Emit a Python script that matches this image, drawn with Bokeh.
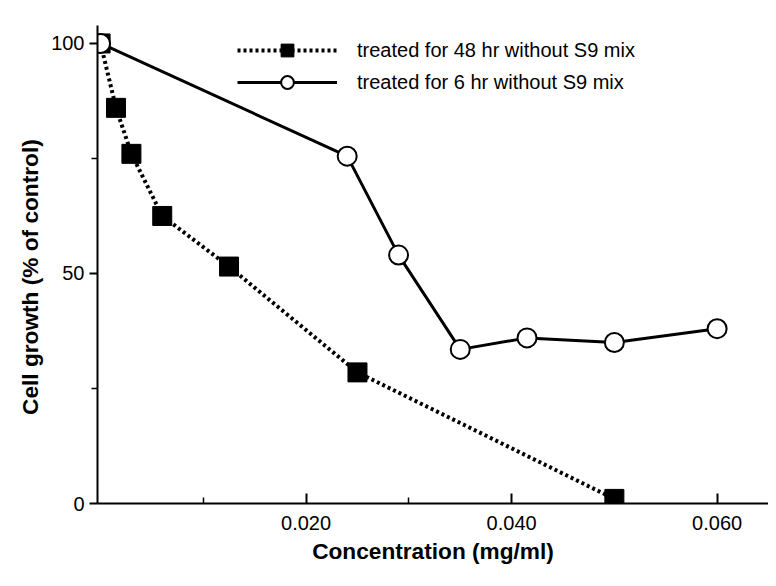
from bokeh.plotting import figure
from bokeh.models import Legend, Range1d, FixedTicker
from bokeh.embed import file_html
from bokeh.resources import INLINE

conc_48 = [0.0, 0.0015, 0.003, 0.006, 0.0125, 0.025, 0.050]
growth_48 = [100, 86, 76, 62.5, 51.5, 28.5, 1]
conc_6 = [0.0, 0.024, 0.029, 0.035, 0.0415, 0.050, 0.060]
growth_6 = [100, 75.5, 54, 33.5, 36, 35, 38]

FONT = "Liberation Sans"

p = figure(
    frame_width=671,
    frame_height=478,
    min_border_left=97,
    min_border_right=0,
    min_border_top=25,
    min_border_bottom=60,
    x_range=Range1d(-0.0003, 0.065),
    y_range=Range1d(0, 103.9),
    toolbar_location=None,
    tools="",
    output_backend="svg",
)

l1 = p.line(conc_48, growth_48, line_color="black", line_width=4, line_dash="3 3")
s1 = p.scatter(conc_48, growth_48, marker="square", size=19, fill_color="black", line_color="black")
l2 = p.line(conc_6, growth_6, line_color="black", line_width=3)
s2 = p.scatter(conc_6, growth_6, marker="circle", size=19, fill_color="white", line_color="black", line_width=2)

legend = Legend(
    items=[
        ("treated for 48 hr without S9 mix", [l1, s1]),
        ("treated for 6 hr without S9 mix", [l2, s2]),
    ],
    location=(140, 405),
    glyph_width=100,
    glyph_height=32,
    label_standoff=20,
    spacing=0,
    padding=4,
    border_line_color=None,
    background_fill_alpha=0,
    label_text_font=FONT,
    label_text_font_size="15pt",
    label_text_color="black",
)
p.add_layout(legend, "center")

p.grid.grid_line_color = None
p.outline_line_color = None
p.axis.axis_line_width = 2
p.axis.major_tick_line_width = 2
p.axis.minor_tick_line_width = 1.5
p.axis.major_label_text_font = FONT
p.axis.major_label_text_font_size = "15pt"
p.axis.major_label_text_color = "black"
p.axis.axis_label_text_font = FONT
p.axis.axis_label_text_font_style = "bold"
p.axis.axis_label_text_font_size = "17pt"
p.axis.axis_label_text_color = "black"

p.xaxis.ticker = FixedTicker(ticks=[0.02, 0.04, 0.06], minor_ticks=[0.01, 0.03, 0.05])
p.xaxis.major_label_overrides = {0.02: "0.020", 0.04: "0.040", 0.06: "0.060"}
p.xaxis.major_tick_out = 0
p.xaxis.major_tick_in = 10
p.xaxis.minor_tick_out = 0
p.xaxis.minor_tick_in = 6
p.xaxis.major_label_standoff = 12
p.xaxis.axis_label = "Concentration (mg/ml)"

p.yaxis.ticker = FixedTicker(ticks=[0, 50, 100], minor_ticks=[25, 75])
p.yaxis.major_tick_out = 8
p.yaxis.major_tick_in = 0
p.yaxis.minor_tick_out = 6
p.yaxis.minor_tick_in = 0
p.yaxis.axis_label = "Cell  growth  (%  of  control)"

open("out.html", "w").write(file_html(p, INLINE))
